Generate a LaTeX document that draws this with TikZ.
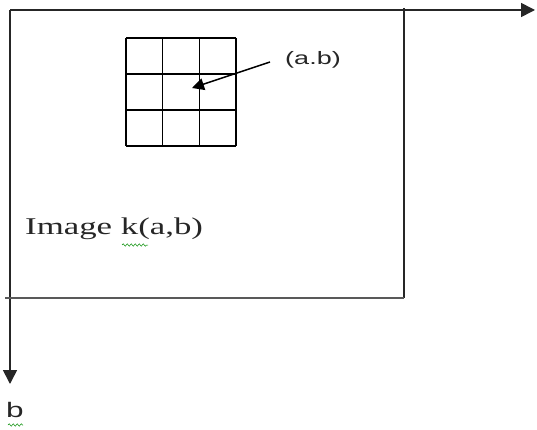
\documentclass[tikz,border=0pt]{standalone}
\usepackage{fontspec}
\setmainfont{Liberation Serif}
\newfontfamily\lblsans[FakeStretch=1.5]{Liberation Sans}
\newfontfamily\lblserif[FakeStretch=1.45]{Liberation Serif}
\usetikzlibrary{arrows.meta,decorations.pathmorphing}
\tikzset{
  axisline/.style={line width=1.6pt, draw=black!85},
  axisarrow/.style={axisline, -{Triangle[length=14pt,width=14pt]}},
  frameline/.style={line width=1.6pt, draw=black!85},
  gridline/.style={line width=1.5pt, draw=black},
  sanslabel/.style={font=\lblsans\fontsize{18}{20}\selectfont, inner sep=0pt, text=black!85},
  seriflabel/.style={font=\lblserif\fontsize{24}{26}\selectfont, inner sep=0pt, text=black!85},
  squiggle/.style={draw=green!55!black, line width=0.5pt, decorate, decoration={snake, amplitude=1.2pt, segment length=4pt}},
  pointer/.style={line width=1.5pt, -{Triangle[length=12pt,width=12pt]}}
}
\begin{document}
\begin{tikzpicture}[x=1pt,y=-1pt]
\useasboundingbox (0,0) rectangle (537,430);
% axes
\coordinate (o) at (10,10);
\coordinate (xend) at (535,10);
\coordinate (yend) at (10,384);
\draw[axisarrow] (o) -- (xend);
\draw[axisarrow] (o) -- (yend);
% image frame
\coordinate (tr) at (404,8);
\coordinate (br) at (404,298);
\coordinate (bl) at (5,298);
\draw[frameline] (tr) -- (br);
\draw[frameline, draw=black!65] (bl) -- (br);
% 3x3 grid
\foreach \gx in {126,162.7,199.4,236.1} \draw[gridline] (\gx,38) -- (\gx,146);
\foreach \gy in {38,74,110,146} \draw[gridline] (126,\gy) -- (236.1,\gy);
% pointer
\node[sanslabel] (ab) at (313,60) {(a.b)};
\coordinate (pt) at (192,88);
\draw[pointer] (270,62) -- (pt);
% labels
\node[seriflabel, anchor=west] (img) at (25,229) {Image k(a,b)};
\node[sanslabel, font=\lblsans\fontsize{21}{23}\selectfont] (b) at (15,410) {b};
\draw[squiggle] (122,245) -- (148,245);
\draw[squiggle] (8,425) -- (23,425);
\end{tikzpicture}
\end{document}
